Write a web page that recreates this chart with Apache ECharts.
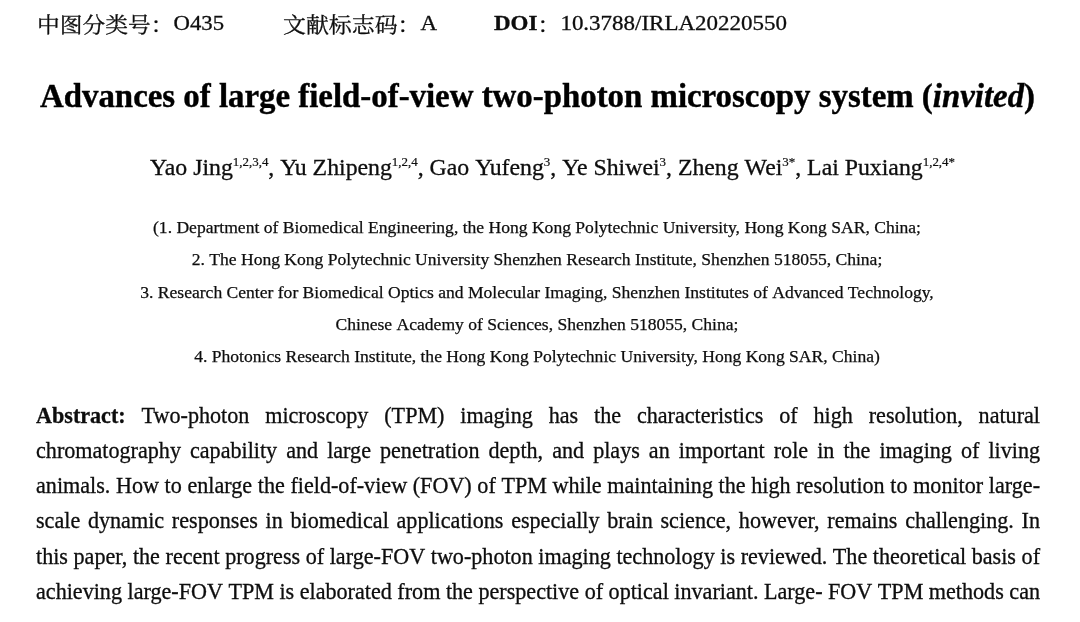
<!DOCTYPE html>
<html><head><meta charset="utf-8">
<script src="https://cdn.jsdelivr.net/npm/echarts@6/dist/echarts.min.js"></script>
<style>html,body{margin:0;padding:0;background:#fff}#c{width:1080px;height:622px}</style>
</head><body><div id="c"></div>
<script>
// ---- content (text data) ----
const headerGroups = [
  [{t:'中图分类号：', k:'cjk'}, {t:'O435', k:'serif'}],
  [{t:'文献标志码：', k:'cjk'}, {t:'A', k:'serif'}],
  [{t:'DOI', k:'serifBold'}, {t:'：', k:'cjk'}, {t:'10.3788/IRLA20220550', k:'serif'}]
];
const titleParts = [
  {t:'Advances of large field-of-view two-photon microscopy system (', k:'bold'},
  {t:'invited', k:'boldItalic'},
  {t:')', k:'bold'}
];
const authorNames = ['Yao Jing', 'Yu Zhipeng', 'Gao Yufeng', 'Ye Shiwei', 'Zheng Wei', 'Lai Puxiang'];
const authorSups  = ['1,2,3,4', '1,2,4', '3', '3', '3*', '1,2,4*'];
const affiliationLines = [
  '(1. Department of Biomedical Engineering, the Hong Kong Polytechnic University, Hong Kong SAR, China;',
  '2. The Hong Kong Polytechnic University Shenzhen Research Institute, Shenzhen 518055, China;',
  '3. Research Center for Biomedical Optics and Molecular Imaging, Shenzhen Institutes of Advanced Technology,',
  'Chinese Academy of Sciences, Shenzhen 518055, China;',
  '4. Photonics Research Institute, the Hong Kong Polytechnic University, Hong Kong SAR, China)'
];
const abstractLabel = 'Abstract:';
const abstractLines = [
  'Two-photon microscopy (TPM) imaging has the characteristics of high resolution, natural',
  'chromatography capability and large penetration depth, and plays an important role in the imaging of living',
  'animals. How to enlarge the field-of-view (FOV) of TPM while maintaining the high resolution to monitor large-',
  'scale dynamic responses in biomedical applications especially brain science, however, remains challenging. In',
  'this paper, the recent progress of large-FOV two-photon imaging technology is reviewed. The theoretical basis of',
  'achieving large-FOV TPM is elaborated from the perspective of optical invariant. Large- FOV TPM methods can'
];

// ---- layout / style ----
const SERIF = '"Liberation Serif","Times New Roman",serif';
const CJK = '"Noto Serif CJK SC","Noto Sans CJK SC",serif';
const INK = '#0d0d0d';
function fontOf(k, size) {
  if (k === 'cjk') return 'normal ' + size + 'px ' + CJK;
  if (k === 'serifBold' || k === 'bold') return 'bold ' + size + 'px ' + SERIF;
  if (k === 'boldItalic') return 'italic bold ' + size + 'px ' + SERIF;
  return 'normal ' + size + 'px ' + SERIF;
}
const ctx = document.createElement('canvas').getContext('2d');
function mw(text, font) { ctx.font = font; return ctx.measureText(text).width; }
const els = [];
function put(text, font, x, baseline, size, sx, fill, sw) {
  const st = { text: text, font: font, fill: fill || INK, x: 0, y: 0,
               textAlign: 'left', textVerticalAlign: 'middle', align: 'left', verticalAlign: 'middle' };
  if (sw) { st.stroke = fill || INK; st.lineWidth = sw; }
  els.push({ type: 'text', x: x, y: baseline - 0.32 * size, scaleX: sx, silent: true, style: st });
}

// Header
const headerLeft = [37, 283, 494], headerRight = [224, 437, 787];
const HS = 21, HB = 31;
headerGroups.forEach((g, i) => {
  const ws = g.map(p => mw(p.t, fontOf(p.k, HS)));
  const tot = ws.reduce((a, b) => a + b, 0);
  const s = (headerRight[i] - headerLeft[i]) / tot;
  let x = headerLeft[i];
  g.forEach((p, j) => { put(p.t, fontOf(p.k, HS), x, HB, HS, s, INK, 0.3); x += ws[j] * s; });
});

// Title
(function () {
  const TS = 33, TB = 109, L = 40, R = 1035;
  const ws = titleParts.map(p => mw(p.t, fontOf(p.k, TS)));
  const tot = ws.reduce((a, b) => a + b, 0);
  const s = (R - L) / tot;
  let x = L;
  titleParts.forEach((p, j) => { put(p.t, fontOf(p.k, TS), x, TB, TS, s, '#000', 0.4); x += ws[j] * s; });
})();

// Authors
(function () {
  const AS = 23, SS = 12.5, AB = 176, L = 150, R = 955;
  const segs = [];
  authorNames.forEach((n, i) => {
    segs.push({t: (i ? ', ' : '') + n, f: fontOf('serif', AS), sup: false});
    segs.push({t: authorSups[i], f: fontOf('serif', SS), sup: true});
  });
  const ws = segs.map(p => mw(p.t, p.f));
  const tot = ws.reduce((a, b) => a + b, 0);
  const s = (R - L) / tot;
  let x = L;
  segs.forEach((p, j) => {
    if (p.sup) put(p.t, p.f, x, AB - 9, SS, s, INK, 0.2);
    else put(p.t, p.f, x, AB, AS, s, INK, 0.3);
    x += ws[j] * s;
  });
})();

// Affiliations
(function () {
  const FS = 17.5, CX = 537, base0 = 234, step = 32.3;
  const f = fontOf('serif', FS);
  const s = (921 - 153) / mw(affiliationLines[0], f);
  affiliationLines.forEach((line, i) => {
    const w = mw(line, f) * s;
    put(line, f, CX - w / 2, base0 + i * step, FS, s, INK, 0.25);
  });
})();

// Abstract (justified)
(function () {
  const FS = 22.5, L = 36, R = 1040, base0 = 424, step = 35.2;
  const fn = fontOf('serif', FS), fb = fontOf('bold', FS);
  const lines = abstractLines.map((ln, i) => {
    const words = ln.split(' ').map(w => ({t: w, f: fn}));
    if (i === 0) words.unshift({t: abstractLabel, f: fb});
    words.forEach(w => w.w = mw(w.t, w.f));
    return words;
  });
  const space = mw(' ', fn);
  let s = 10;
  lines.forEach(ws => {
    const nat = ws.reduce((a, w) => a + w.w, 0) + space * (ws.length - 1);
    s = Math.min(s, (R - L) / nat);
  });
  lines.forEach((ws, i) => {
    const sum = ws.reduce((a, w) => a + w.w, 0) * s;
    const gap = (R - L - sum) / (ws.length - 1);
    let x = L;
    ws.forEach(w => { put(w.t, w.f, x, base0 + i * step, FS, s, INK, 0.3); x += w.w * s + gap; });
  });
})();

const chart = echarts.init(document.getElementById('c'), null, {renderer: 'canvas'});
chart.setOption({ backgroundColor: '#fff', animation: false, graphic: { elements: els } });
</script></body></html>
